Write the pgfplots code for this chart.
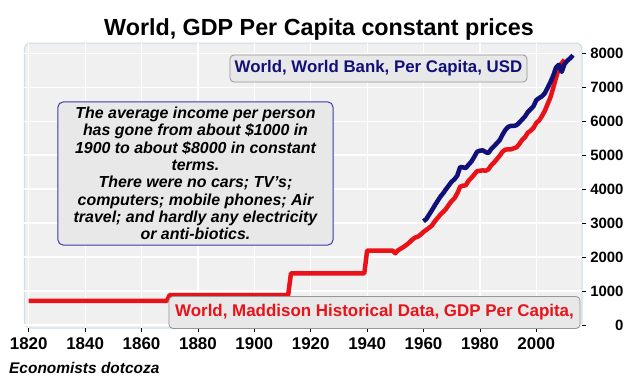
\documentclass[border=0pt]{standalone}
\usepackage{pgfplots}
\pgfplotsset{compat=1.18}
\usepackage{fontspec}
\setmainfont{Liberation Sans}
\definecolor{myred}{RGB}{232,18,24}
\definecolor{mynavy}{RGB}{16,16,120}
\definecolor{framecol}{RGB}{200,222,232}
\definecolor{plotbg}{RGB}{240,240,240}
\definecolor{boxfill}{RGB}{232,232,232}
\definecolor{boxnavy}{RGB}{60,60,170}
\definecolor{boxgray}{RGB}{150,150,150}

\pgfplotstableread{
year value
1820 712
1869 712
1870 880
1912 880
1913 1520
1939 1520
1940 2190
1949 2190
1950 2110
1951 2200
1952 2250
1953 2300
1954 2360
1955 2430
1956 2510
1957 2570
1958 2600
1959 2660
1960 2740
1961 2800
1962 2860
1963 2930
1964 3050
1965 3150
1966 3250
1967 3330
1968 3420
1969 3540
1970 3650
1971 3730
1972 3880
1973 4070
1974 4100
1975 4110
1976 4250
1977 4330
1978 4430
1979 4530
1980 4540
1981 4550
1982 4540
1983 4580
1984 4700
1985 4780
1986 4880
1987 4980
1988 5100
1989 5160
1990 5170
1991 5170
1992 5200
1993 5230
1994 5330
1995 5450
1996 5530
1997 5660
1998 5720
1999 5800
2000 5950
2001 6020
2002 6150
2003 6300
2004 6500
2005 6700
2006 6980
2007 7280
2008 7560
2009 7700
2010 7810
}\maddison

\pgfplotstableread{
year value
1960 3050
1961 3120
1962 3250
1963 3380
1964 3520
1965 3650
1966 3780
1967 3880
1968 4000
1969 4110
1970 4220
1971 4290
1972 4400
1973 4650
1974 4640
1975 4620
1976 4720
1977 4810
1978 4950
1979 5100
1980 5130
1981 5140
1982 5090
1983 5060
1984 5180
1985 5260
1986 5350
1987 5440
1988 5600
1989 5740
1990 5830
1991 5860
1992 5860
1993 5880
1994 5960
1995 6050
1996 6140
1997 6270
1998 6350
1999 6440
2000 6620
2001 6680
2002 6730
2003 6820
2004 6980
2005 7150
2006 7340
2007 7580
2008 7660
2009 7450
2010 7680
2011 7780
2012 7850
2013 7940
}\worldbank

\begin{document}
\begin{tikzpicture}
\useasboundingbox (-24.5bp,-59bp) rectangle (615.5bp,328bp);
\begin{axis}[
  at={(0,0)}, anchor=south west,
  width=557.5bp, height=285bp, scale only axis,
  xmin=1818.5, xmax=2016.2, ymin=-90, ymax=8300,
  xtick={1820,1840,...,2000}, ytick={0,1000,...,8000},
  xtick pos=left, ytick pos=right, yticklabel pos=right,
  tick align=outside, major tick length=4bp,
  tick style={black, line width=0.6bp},
  axis line style={draw=none},
  axis background/.style={fill=plotbg, draw=framecol, line width=1bp, rounded corners=6bp},
  grid=major, major grid style={white, line width=1.2bp},
  /pgf/number format/assume math mode=true,
  /pgf/number format/1000 sep={},
  scaled y ticks=false,
  x tick label style={font=\bfseries\fontsize{17}{17}\selectfont, yshift=-2bp},
  y tick label style={font=\bfseries\fontsize{15}{15}\selectfont, text width=34bp, align=right},
]
\addplot[myred, line width=4.5bp, line join=round] table[x=year,y=value] {\maddison};
\addplot[mynavy, line width=4.5bp, line join=round] table[x=year,y=value] {\worldbank};
\end{axis}
\begin{scope}[x=1bp,y=1bp,shift={(-24.5bp,-59bp)}]
\node[font=\bfseries\fontsize{23.4}{23.4}\selectfont, anchor=base] at (319,352) {World, GDP Per Capita constant prices};
\node[font=\bfseries\itshape\fontsize{15.5}{15.5}\selectfont, anchor=base west, inner sep=0] at (9,14) {Economists dotcoza};
\node[draw=boxgray, fill=boxfill, rounded corners=4bp, line width=0.8bp, minimum width=297bp, minimum height=27bp, text=mynavy, font=\bfseries\fontsize{16.9}{16.9}\selectfont] at (378.5,318.5) {World, World Bank, Per Capita, USD};
\node[draw=boxgray, fill=boxfill, rounded corners=4bp, line width=0.8bp, minimum width=411bp, minimum height=32bp, text=myred, font=\bfseries\fontsize{17}{17}\selectfont] at (374.5,74.5) {World, Maddison Historical Data, GDP Per Capita,};
\node[draw=boxnavy, fill=boxfill, rounded corners=5bp, line width=1bp, minimum width=275bp, minimum height=143bp, align=center, font=\bfseries\itshape\fontsize{16}{17.4}\selectfont] at (195.5,213.5) {The average income per person\\ has gone from about \$1000 in\\ 1900 to about \$8000 in constant\\ terms.\\ There were no cars; TV's;\\ computers; mobile phones; Air\\ travel; and hardly any electricity\\ or anti-biotics.};
\end{scope}
\end{tikzpicture}
\end{document}
